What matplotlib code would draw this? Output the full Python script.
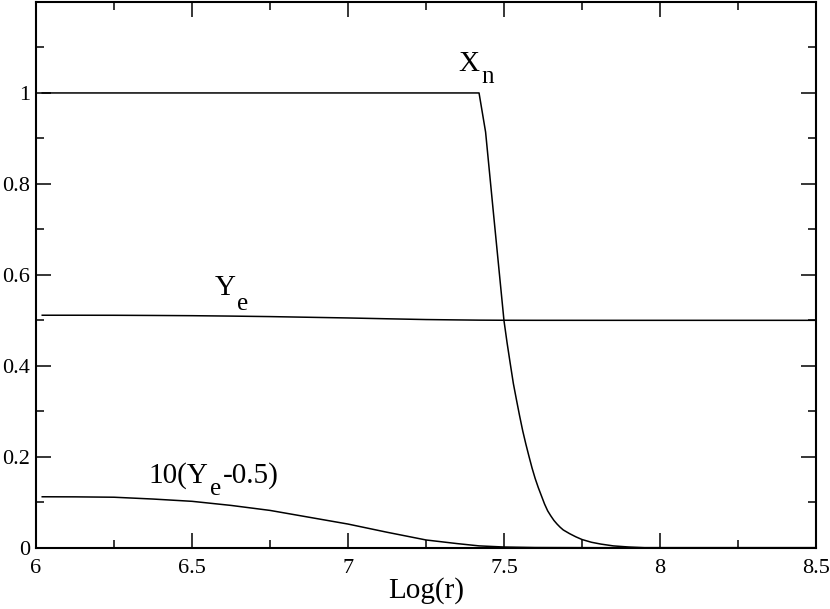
import numpy as np
import matplotlib
matplotlib.use('Agg')
import matplotlib.pyplot as plt
from matplotlib.ticker import MultipleLocator

plt.rcParams['font.family'] = ['Liberation Serif', 'DejaVu Serif']

#--X_n (neutron fraction) vs Log(r)
logr_xn = [6.02, 7.42, 7.441, 7.466, 7.50, 7.51, 7.52, 7.53, 7.54, 7.55, 7.56, 7.57, 7.58,
           7.59, 7.60, 7.61, 7.62, 7.63, 7.64, 7.65, 7.66, 7.67, 7.68, 7.69, 7.71, 7.73,
           7.75, 7.78, 7.81, 7.85, 7.90, 7.95, 8.5]
xn      = [1.0, 1.0, 0.914, 0.737, 0.499, 0.450, 0.405, 0.361, 0.325, 0.290, 0.257, 0.228, 0.201,
           0.175, 0.152, 0.132, 0.114, 0.096, 0.081, 0.070, 0.060, 0.052, 0.045, 0.039, 0.031, 0.024,
           0.018, 0.012, 0.008, 0.004, 0.0015, 0.0, 0.0]

#--Y_e vs Log(r)
logr_ye = [6.02, 6.125, 6.25, 6.375, 6.5, 6.625, 6.75, 6.875, 7.0, 7.125, 7.25, 7.35,
           7.42, 7.5, 7.6, 7.8, 8.5]
ye      = [0.5112, 0.5112, 0.5111, 0.5107, 0.5102, 0.5093, 0.5082, 0.5067, 0.5052, 0.5034,
           0.5017, 0.5009, 0.5004, 0.50015, 0.50004, 0.5, 0.5]

#--10(Y_e-0.5)
ye_dev  = [0.112, 0.1118, 0.111, 0.107, 0.102, 0.093, 0.082, 0.067, 0.052, 0.034,
           0.017, 0.009, 0.004, 0.0015, 0.0004, 0.0, 0.0]

fig = plt.figure(figsize=(8.3, 6.09), dpi=100)
ax = fig.add_axes([36/830, 1-547.7/609, 780/830, 545.7/609])

ax.plot(logr_xn, xn, color='k', lw=1.1)
ax.plot(logr_ye, ye, color='k', lw=1.1)
ax.plot(logr_ye, ye_dev, color='k', lw=1.1)

ax.set_xlim(6, 8.5)
ax.set_ylim(0, 1.2)
ax.xaxis.set_minor_locator(MultipleLocator(0.25))
ax.yaxis.set_minor_locator(MultipleLocator(0.1))
ax.set_xticks([6, 6.5, 7, 7.5, 8, 8.5])
ax.set_xticklabels(['6', '6.5', '7', '7.5', '8', '8.5'])
ax.set_yticks([0, 0.2, 0.4, 0.6, 0.8, 1.0, 1.2])
ax.set_yticklabels(['0', '0.2', '0.4', '0.6', '0.8', '1', ''])

ax.tick_params(axis='both', which='both', direction='in', top=True, right=True,
               labelsize=16, width=1.1)
ax.tick_params(axis='both', which='major', length=11)
ax.tick_params(axis='both', which='minor', length=5.5)
ax.tick_params(axis='x', pad=8)
ax.tick_params(axis='y', pad=4)
for s in ax.spines.values():
    s.set_linewidth(1.5)

ax.set_xlabel('Log(r)', size=21)
ax.xaxis.label.set_va('baseline')
ax.xaxis.set_label_coords(0.5, -50.3/545.7)

#--labels, subscripts drawn as separate lowered text
ax.text(7.353, 1.048, 'X', size=21, ha='left', va='baseline')
ax.text(7.428, 1.021, 'n', size=18, ha='left', va='baseline')
ax.text(6.574, 0.555, 'Y', size=21, ha='left', va='baseline')
ax.text(6.645, 0.522, 'e', size=18, ha='left', va='baseline')
ax.text(6.359, 0.142, '10(Y', size=21, ha='left', va='baseline')
ax.text(6.558, 0.116, 'e', size=18, ha='left', va='baseline')
ax.text(6.598, 0.142, '-0.5)', size=21, ha='left', va='baseline')

plt.savefig('out.png', dpi=100)
